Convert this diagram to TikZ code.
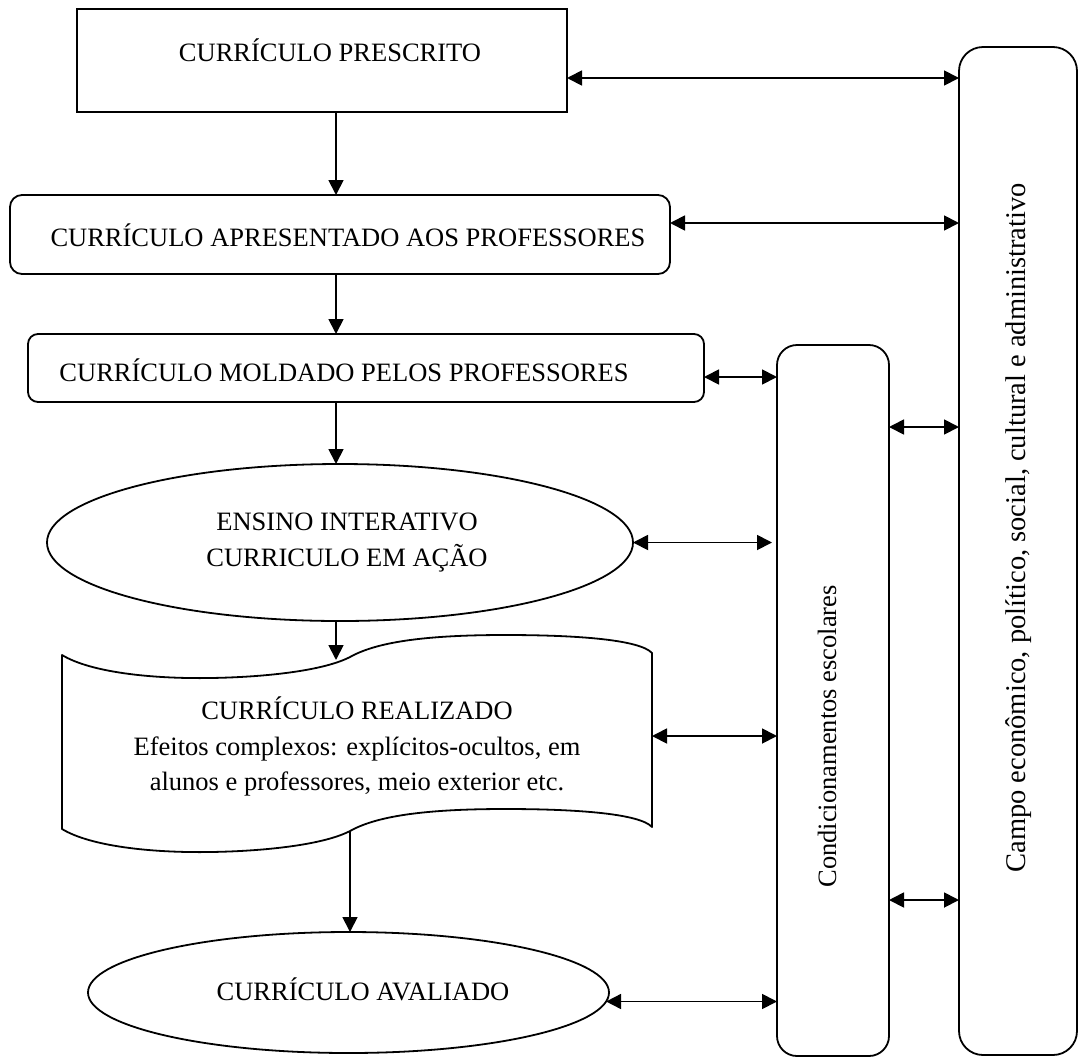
\documentclass[tikz,border=0pt]{standalone}
\usepackage{fontspec}
\setmainfont{Liberation Serif}
\usetikzlibrary{arrows.meta,shapes.geometric,calc}
\begin{document}
\begin{tikzpicture}[x=1pt,y=-1pt,
  shp/.style={draw=black,line width=1.8pt,inner sep=0pt,outer sep=0pt},
  rbox/.style={shp,rectangle,rounded corners=#1},
  ell/.style={shp,ellipse},
  txt/.style={font=\fontsize{26.5}{36}\selectfont,inner sep=0pt,anchor=base},
  arr/.style={line width=1.8pt,-{Triangle[length=15pt,width=15pt]}},
  biarr/.style={line width=1.8pt,{Triangle[length=15pt,width=15pt]}-{Triangle[length=15pt,width=15pt]}}
]
\useasboundingbox (0,0) rectangle (1079,1058);

% shapes
\node[shp,rectangle,minimum width=490pt,minimum height=103pt] (box1) at (322,60.5) {};
\node[rbox=12pt,minimum width=660pt,minimum height=79pt] (box2) at (340,234.5) {};
\node[rbox=10pt,minimum width=676pt,minimum height=68pt] (box3) at (366,368) {};
\node[ell,minimum width=586pt,minimum height=157pt] (ell1) at (340,542.5) {};
\node[ell,minimum width=521pt,minimum height=121pt] (ell2) at (348.5,992.5) {};
\node[rbox=20pt,minimum width=112pt,minimum height=711pt] (cond) at (833,700.5) {};
\node[rbox=24pt,minimum width=118pt,minimum height=1008pt] (campo) at (1018,551) {};

% document shape (curriculo realizado)
\draw[line width=1.8pt,line join=round]
  (62,655) .. controls (90,672) and (150,679) .. (211,678)
  .. controls (270,677) and (325,670) .. (350,657)
  .. controls (375,643) and (420,635) .. (505,635)
  .. controls (580,635) and (640,640) .. (652,653)
  -- (652,827)
  .. controls (640,814) and (580,809) .. (505,809)
  .. controls (420,809) and (375,817) .. (350,831)
  .. controls (325,844) and (270,851) .. (211,852)
  .. controls (150,853) and (90,846) .. (62,829)
  -- cycle;
\coordinate (docT) at (336,660);
\coordinate (docB) at (350,831);
\coordinate (docR) at (652,736);

% texts
\node[txt] (t1) at (330,61) {CURRÍCULO PRESCRITO};
\node[txt] (t2) at (348,246) {CURRÍCULO APRESENTADO AOS PROFESSORES};
\node[txt] (t3) at (344,381) {CURRÍCULO MOLDADO PELOS PROFESSORES};
\node[txt] (t4a) at (347,530) {ENSINO INTERATIVO};
\node[txt] (t4b) at (347,566) {CURRICULO EM AÇÃO};
\node[txt] (t5a) at (357,719) {CURRÍCULO REALIZADO};
\node[txt] (t5b) at (357,755) {Efeitos complexos: explícitos-ocultos, em};
\node[txt] (t5c) at (357,790) {alunos e professores, meio exterior etc.};
\node[txt] (t6) at (363,1000) {CURRÍCULO AVALIADO};
\node[txt,rotate=90,anchor=base east] (t7) at (836,585) {Condicionamentos escolares};
\node[txt,font=\fontsize{28.5}{34}\selectfont,rotate=90,anchor=base east] (t8) at (1025,183) {Campo econômico, político, social, cultural e administrativo};

% helper coordinates
\coordinate (xa) at (336,0);
\coordinate (xb) at (350,0);
\coordinate (y78) at (0,78);
\coordinate (y223) at (0,223);
\coordinate (y377) at (0,377);
\coordinate (y427) at (0,427);
\coordinate (y900) at (0,900);

% main flow
\draw[arr] (box1.south -| xa) -- (box2.north -| xa);
\draw[arr] (box2.south -| xa) -- (box3.north -| xa);
\draw[arr] (box3.south -| xa) -- (ell1.north -| xa);
\draw[arr] (ell1.south -| xa) -- (docT);
\draw[arr] (docB) -- (ell2.north -| xb);

% two-way connectors
\draw[biarr] (box1.east |- y78) -- (campo.west |- y78);
\draw[biarr] (box2.east |- y223) -- (campo.west |- y223);
\draw[biarr] (box3.east |- y377) -- (cond.west |- y377);
\draw[biarr] (cond.east |- y427) -- (campo.west |- y427);
\draw[biarr] (ell1.east) -- ($(cond.west |- ell1.east)+(-5,0)$);
\draw[biarr] (docR) -- (cond.west |- docR);
\draw[biarr] (cond.east |- y900) -- (campo.west |- y900);
\draw[biarr] (ell2.-2.7) -- (cond.west |- ell2.-2.7);
\end{tikzpicture}
\end{document}
